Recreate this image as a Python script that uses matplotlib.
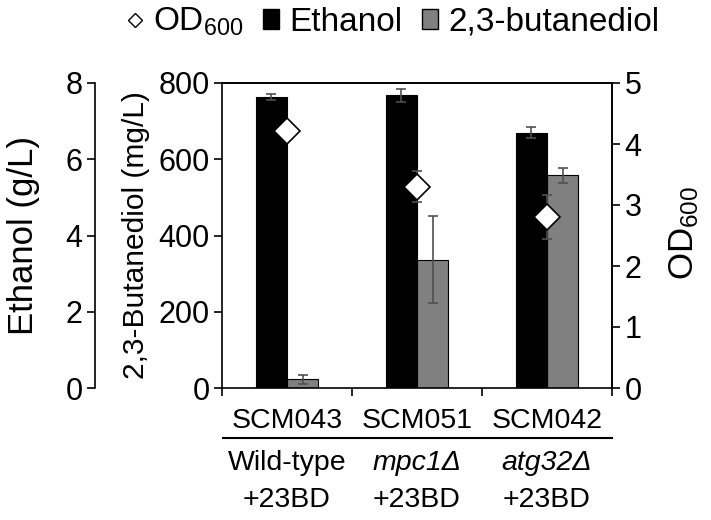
import matplotlib.pyplot as plt
import numpy as np

plt.rcParams['font.family'] = ['Liberation Sans', 'DejaVu Sans']
plt.rcParams['mathtext.fontset'] = 'custom'
plt.rcParams['mathtext.rm'] = 'Liberation Sans'
plt.rcParams['mathtext.it'] = 'Liberation Sans:italic'

## data
strains = ['SCM043', 'SCM051', 'SCM042']
genotypes = ['Wild-type', 'mpc1Δ', 'atg32Δ']
genoItalic = [False, True, True]
treatment = ['+23BD', '+23BD', '+23BD']

ethanol = [7.63, 7.68, 6.70]          # g/L
ethanolErr = [0.08, 0.17, 0.14]
butanediol = [23, 336, 558]           # mg/L
butanediolErr = [12, 114, 20]
od600 = [4.21, 3.30, 2.81]
od600Err = [0.04, 0.25, 0.36]

x = np.arange(len(strains))
w = 0.24
errCol = '#505050'

fig = plt.figure(figsize=(7.11, 5.2), dpi=100)
ax = fig.add_axes([222/711, 1-388/520, 390/711, 305/520])   # 2,3-butanediol axis
axE = ax.twinx()                                            # ethanol axis (far left)
axOD = ax.twinx()                                           # OD600 axis (right)

## ethanol bars
axE.bar(x - w/2, ethanol, w, color='black', edgecolor='black', linewidth=0.8)
axE.errorbar(x - w/2, ethanol, yerr=ethanolErr, fmt='none', ecolor=errCol,
             elinewidth=1.2, capsize=3.5, capthick=1.2)
axE.set_ylim(0, 8)
axE.set_yticks([0, 2, 4, 6, 8])
axE.yaxis.set_ticks_position('left')
axE.yaxis.set_label_position('left')
axE.spines['left'].set_position(('axes', (95-222)/390))
for s in ['right', 'top', 'bottom']:
    axE.spines[s].set_visible(False)
axE.set_ylabel('Ethanol (g/L)', fontsize=25)
axE.yaxis.set_label_coords((40-222)/390, 0.5)

## butanediol bars
ax.bar(x + w/2, butanediol, w, color='#808080', edgecolor='black', linewidth=0.8)
ax.errorbar(x + w/2, butanediol, yerr=butanediolErr, fmt='none', ecolor=errCol,
            elinewidth=1.2, capsize=3.5, capthick=1.2)
ax.set_ylim(0, 800)
ax.set_yticks([0, 200, 400, 600, 800])
ax.set_ylabel('2,3-Butanediol (mg/L)', fontsize=21.5)
ax.yaxis.set_label_coords((150-222)/390, 0.5)

## OD600 diamonds
axOD.errorbar(x, od600, yerr=od600Err, fmt='D', ms=13.5, mfc='white', mec='black',
              mew=1.2, ecolor=errCol, elinewidth=1.2, capsize=3.5, capthick=1.2)
axOD.set_ylim(0, 5)
axOD.set_yticks([0, 1, 2, 3, 4, 5])
axOD.set_ylabel('OD$_{600}$', fontsize=25)
axOD.yaxis.set_label_coords((667-222)/390, 0.51)
for s in ['left', 'bottom']:
    axOD.spines[s].set_visible(False)

ax.set_xlim(-0.5, 2.5)
ax.set_xticks([-0.5, 0.5, 1.5, 2.5])
ax.set_xticklabels([])

for a in [ax, axE, axOD]:
    a.tick_params(axis='y', labelsize=22, length=6, width=1.2, direction='out', pad=3)
    for s in a.spines.values():
        s.set_linewidth(1.2)
ax.tick_params(axis='x', length=6, width=1.2, direction='out')

## category labels under the axis
xt = ax.get_xaxis_transform()
for i in range(len(strains)):
    ax.text(x[i], -0.131, strains[i], transform=xt, ha='center', va='baseline', fontsize=20.5)
    ax.text(x[i], -0.269, genotypes[i], transform=xt, ha='center', va='baseline',
            fontsize=20.5, style='italic' if genoItalic[i] else 'normal')
    ax.text(x[i], -0.390, treatment[i], transform=xt, ha='center', va='baseline', fontsize=20.5)
ax.plot([-0.49, 2.5], [-0.165, -0.165], color='black', lw=1.5, transform=xt, clip_on=False)

## legend
hOD = plt.Line2D([], [], marker='D', ls='none', ms=7.5, mfc='white', mec='black', mew=1)
hE = plt.Rectangle((0, 0), 1, 1, fc='black', ec='black')
hB = plt.Rectangle((0, 0), 1, 1, fc='#808080', ec='black')
fig.legend([hOD, hE, hB], ['OD$_{600}$', 'Ethanol', '2,3-butanediol'],
           loc='center', bbox_to_anchor=(393/711, 1-22/520), ncol=3, frameon=False,
           fontsize=24, handlelength=0.48, handleheight=0.55, handletextpad=0.3,
           columnspacing=0.6, borderpad=0)

plt.savefig('out.png', dpi=100)
